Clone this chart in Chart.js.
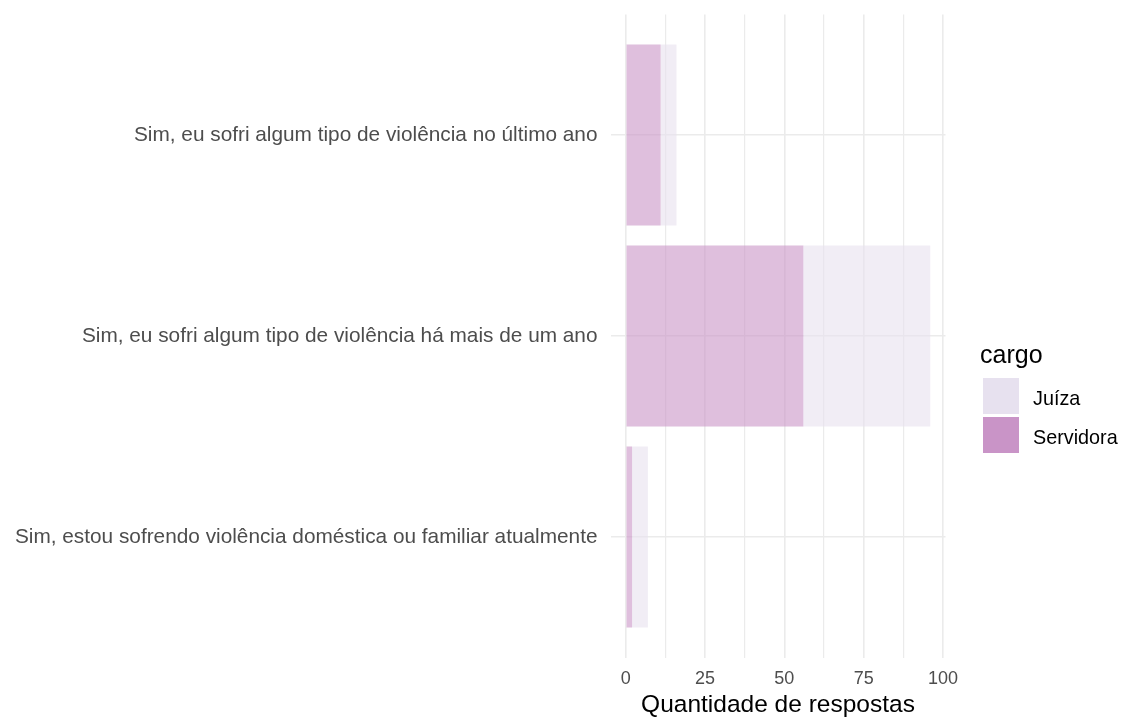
<!DOCTYPE html>
<html>
<head>
<meta charset="utf-8">
<script src="https://cdn.jsdelivr.net/npm/chart.js@4"></script>
<style>
html,body{margin:0;padding:0;background:#fff;}
#wrap{width:1121px;height:717px;position:relative;}
</style>
</head>
<body>
<div id="wrap"><canvas id="c" width="1121" height="717"></canvas></div>
<script>
const categories = [
  "Sim, eu sofri algum tipo de violência no último ano",
  "Sim, eu sofri algum tipo de violência há mais de um ano",
  "Sim, estou sofrendo violência doméstica ou familiar atualmente"
];
const servidora = [11, 56, 2];
const juiza = [5, 40, 5];
const xTicks = [0, 25, 50, 75, 100];
const xMinorTicks = [12.5, 37.5, 62.5, 87.5];
const legendTitle = "cargo";
const xTitle = "Quantidade de respostas";

const FONT = "'Liberation Sans', Arial, sans-serif";
const colJuiza = "#e7e1ef";
const colServ = "#c994c7";
function alpha(hex, a){
  const r=parseInt(hex.slice(1,3),16),g=parseInt(hex.slice(3,5),16),b=parseInt(hex.slice(5,7),16);
  return `rgba(${r},${g},${b},${a})`;
}

const PLOT_L = 610.5, PLOT_R = 945.5, PLOT_T = 14.4, PLOT_B = 657.6;

const legendPlugin = {
  id: 'ggLegend',
  afterDraw(chart){
    const ctx = chart.ctx;
    ctx.save();
    ctx.fillStyle = '#000';
    ctx.font = `25px ${FONT}`;
    ctx.textBaseline = 'middle';
    ctx.textAlign = 'left';
    ctx.fillText(legendTitle, 980, 356);
    const order = [1, 0]; // Juíza, Servidora
    order.forEach((di, k) => {
      const ds = chart.data.datasets[di];
      const y0 = 378 + k * 39;
      ctx.fillStyle = ds.legendColor;
      ctx.fillRect(983, y0, 36, 36);
      ctx.fillStyle = '#000';
      ctx.font = `19.8px ${FONT}`;
      ctx.fillText(ds.label, 1033, y0 + 22);
    });
    ctx.restore();
  }
};

const allX = xTicks.concat(xMinorTicks).sort((a,b)=>a-b);

new Chart(document.getElementById('c'), {
  type: 'bar',
  data: {
    datasets: [
      {
        label: 'Servidora',
        data: servidora.map((v,i)=>({x:v, y:i+1})),
        backgroundColor: alpha(colServ, 0.6),
        legendColor: colServ,
        borderWidth: 0,
        barPercentage: 0.9,
        categoryPercentage: 1
      },
      {
        label: 'Juíza',
        data: juiza.map((v,i)=>({x:v, y:i+1})),
        backgroundColor: alpha(colJuiza, 0.6),
        legendColor: colJuiza,
        borderWidth: 0,
        barPercentage: 0.9,
        categoryPercentage: 1
      }
    ]
  },
  options: {
    indexAxis: 'y',
    responsive: false,
    animation: false,
    devicePixelRatio: 1,
    layout: { padding: { left: 0, right: 1121 - PLOT_R, top: PLOT_T, bottom: 0 } },
    plugins: { legend: { display: false }, tooltip: { enabled: false } },
    scales: {
      x: {
        type: 'linear',
        stacked: true,
        min: -4.8,
        max: 100.8,
        offset: false,
        afterBuildTicks(scale){ scale.ticks = allX.map(v=>({value:v})); },
        afterFit(scale){ scale.height = 717 - PLOT_B; scale.paddingLeft = 0; scale.paddingRight = 0; },
        border: { display: false },
        grid: {
          offset: false,
          color: '#ebebeb',
          lineWidth: (c) => (xTicks.includes(c.tick && c.tick.value) ? 1.6 : 1.2),
          drawTicks: false
        },
        ticks: {
          autoSkip: false,
          maxRotation: 0,
          padding: 11,
          color: '#4d4d4d',
          font: { family: FONT, size: 18 },
          callback: (v) => (xTicks.includes(v) ? String(v) : '')
        },
        title: {
          display: true,
          text: xTitle,
          color: '#000',
          font: { family: FONT, size: 24.5 },
          padding: { top: 0, bottom: -3 }
        }
      },
      y: {
        type: 'linear',
        stacked: true,
        reverse: true,
        min: 0.4,
        max: 3.6,
        offset: false,
        afterBuildTicks(scale){ scale.ticks = categories.map((c,i)=>({value:i+1})); },
        afterFit(scale){ scale.width = PLOT_L; scale.paddingTop = 0; scale.paddingBottom = 0; },
        border: { display: false },
        grid: { offset: false, color: '#ebebeb', lineWidth: 1.6, drawTicks: false },
        ticks: {
          autoSkip: false,
          padding: 13,
          color: '#4d4d4d',
          font: { family: FONT, size: 20.8 },
          callback: (v) => categories[Math.round(v) - 1] || ''
        }
      }
    }
  },
  plugins: [legendPlugin]
});
</script>
</body>
</html>
